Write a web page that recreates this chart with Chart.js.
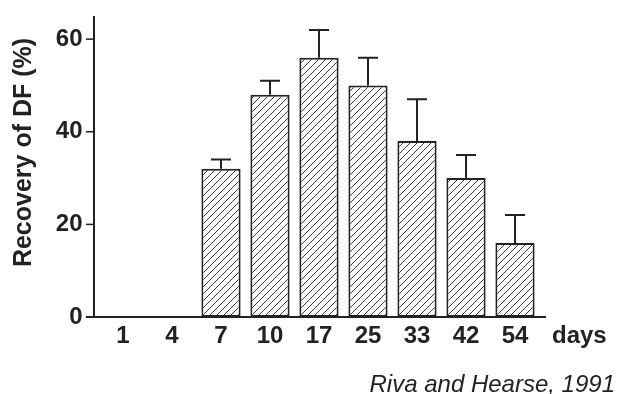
<!DOCTYPE html>
<html>
<head>
<meta charset="utf-8">
<script src="https://cdn.jsdelivr.net/npm/chart.js@4"></script>
<style>
  html, body { margin: 0; padding: 0; background: #fff; }
  #wrap { width: 620px; height: 394px; }
</style>
</head>
<body>
<div id="wrap"><canvas id="c" width="620" height="394"></canvas></div>
<script>
// recovery of DF after injury, mean + SD
const days = ["1", "4", "7", "10", "17", "25", "33", "42", "54"];
const recovery = [null, null, 32, 48, 56, 50, 38, 30, 16];
const errUp = [null, null, 2, 3, 6, 6, 9, 5, 6];
const yTicks = [0, 20, 40, 60];

const INK = "#222";
const FONT = '"Liberation Sans", Arial, sans-serif';

// diagonal hatch ////
function hatch() {
  const s = 7;
  const p = document.createElement("canvas");
  p.width = s; p.height = s;
  const g = p.getContext("2d");
  g.fillStyle = "#fff";
  g.fillRect(0, 0, s, s);
  g.strokeStyle = "#3a3a3a";
  g.lineWidth = 1;
  g.beginPath();
  g.moveTo(0, s); g.lineTo(s, 0);
  g.moveTo(-s / 2, s / 2); g.lineTo(s / 2, -s / 2);
  g.moveTo(s / 2, s * 1.5); g.lineTo(s * 1.5, s / 2);
  g.stroke();
  return g.createPattern(p, "repeat");
}

// axes, error bars and the extra labels
const extras = {
  id: "extras",
  beforeDatasetsDraw(chart) {
    const { ctx, chartArea: a, scales: { y } } = chart;
    const ax = a.left - 4.5;
    ctx.save();
    ctx.strokeStyle = INK;
    ctx.lineWidth = 2;
    ctx.beginPath();
    ctx.moveTo(ax, a.top);
    ctx.lineTo(ax, a.bottom);
    ctx.stroke();
    ctx.lineWidth = 1.5;
    yTicks.forEach(v => {
      const py = y.getPixelForValue(v);
      ctx.beginPath();
      ctx.moveTo(ax - 8, py);
      ctx.lineTo(ax, py);
      ctx.stroke();
    });
    ctx.restore();
  },
  afterDatasetsDraw(chart) {
    const { ctx, chartArea: a, scales: { y } } = chart;
    const ax = a.left - 4.5;
    ctx.save();
    ctx.strokeStyle = INK;
    ctx.lineWidth = 2;
    ctx.beginPath();
    ctx.moveTo(ax - 8, a.bottom);
    ctx.lineTo(a.right + 6.5, a.bottom);
    ctx.stroke();

    const meta = chart.getDatasetMeta(0);
    meta.data.forEach((bar, i) => {
      if (recovery[i] == null) return;
      const top = y.getPixelForValue(recovery[i]);
      const hi = y.getPixelForValue(recovery[i] + errUp[i]);
      ctx.beginPath();
      ctx.moveTo(bar.x, top);
      ctx.lineTo(bar.x, hi);
      ctx.moveTo(bar.x - 10, hi);
      ctx.lineTo(bar.x + 10, hi);
      ctx.stroke();
    });

    ctx.fillStyle = INK;
    ctx.textBaseline = "alphabetic";
    ctx.font = "bold 24px " + FONT;
    ctx.textAlign = "left";
    ctx.fillText("days", 552, 343);

    ctx.save();
    ctx.translate(31, 152.5);
    ctx.rotate(-Math.PI / 2);
    ctx.textAlign = "center";
    ctx.font = "bold 25px " + FONT;
    ctx.fillText("Recovery of DF (%)", 0, 0);
    ctx.restore();

    ctx.fillStyle = "#222";
    ctx.font = "italic 24px " + FONT;
    ctx.textAlign = "right";
    ctx.fillText("Riva and Hearse, 1991", 615, 391.5);
    ctx.restore();
  }
};

new Chart(document.getElementById("c"), {
  type: "bar",
  data: {
    labels: days,
    datasets: [{
      data: recovery,
      backgroundColor: hatch(),
      borderColor: INK,
      borderWidth: 2,
      borderSkipped: false,
      barPercentage: 0.8,
      categoryPercentage: 1
    }]
  },
  options: {
    responsive: false,
    animation: false,
    layout: { padding: { top: 16, right: 80.5, left: 0, bottom: 0 } },
    plugins: { legend: { display: false }, tooltip: { enabled: false } },
    scales: {
      x: {
        grid: { display: false, drawTicks: false },
        border: { display: false },
        ticks: { color: INK, padding: 5, font: { family: FONT, size: 24, weight: "bold" } },
        afterFit: s => { s.height = 77; s.paddingLeft = 0; s.paddingRight = 0; }
      },
      y: {
        min: 0,
        max: 65,
        grid: { display: false, drawTicks: false },
        border: { display: false },
        ticks: {
          stepSize: 20,
          includeBounds: false,
          color: INK,
          padding: 16,
          font: { family: FONT, size: 24, weight: "bold" }
        },
        afterFit: s => { s.width = 98.5; s.paddingTop = 0; s.paddingBottom = 0; }
      }
    }
  },
  plugins: [extras]
});
</script>
</body>
</html>
